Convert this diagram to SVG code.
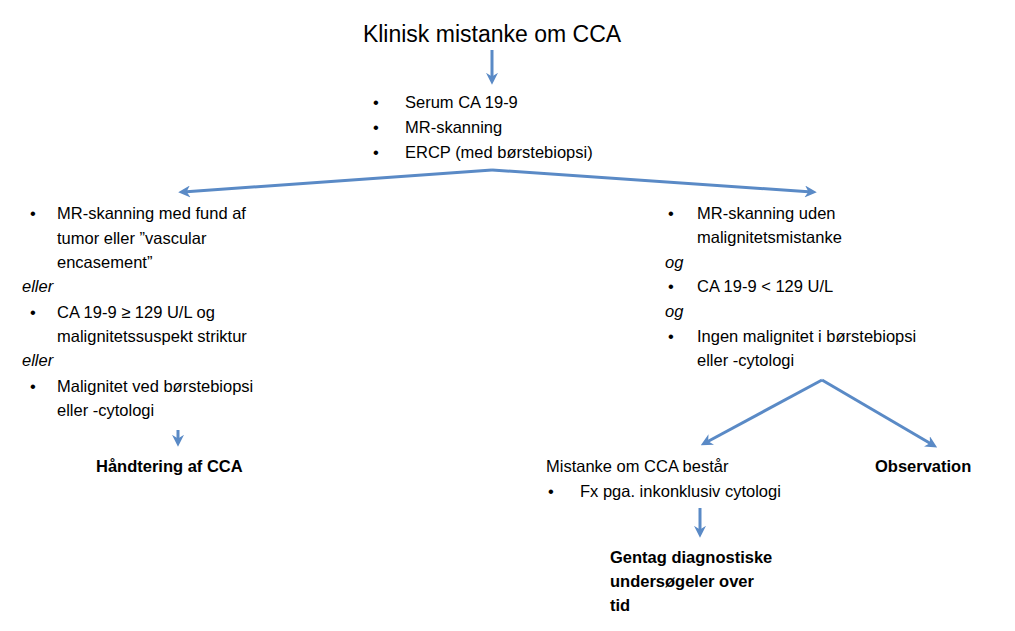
<svg xmlns="http://www.w3.org/2000/svg" width="1015" height="631" viewBox="0 0 1015 631">
<style>
text{font-family:"Liberation Sans",Arial,sans-serif;font-size:16.5px;fill:#000}
.b{font-weight:bold}
.i{font-style:italic}
.c{stroke:#5A8AC6;stroke-width:3;fill:none}
</style>
<defs>
<marker id="ah" viewBox="0 0 10 10" refX="6" refY="5" markerWidth="4" markerHeight="4" orient="auto" markerUnits="strokeWidth">
<path d="M0,0 L10,5 L0,10 L3,5 z" fill="#5A8AC6"/>
</marker>
</defs>
<rect width="1015" height="631" fill="#fff"/>
<g id="connectors">
<line class="c" x1="492" y1="50" x2="492" y2="80" marker-end="url(#ah)"/>
<line class="c" x1="492" y1="170" x2="183" y2="192" marker-end="url(#ah)"/>
<line class="c" x1="492" y1="170" x2="812" y2="192" marker-end="url(#ah)"/>
<line class="c" x1="178" y1="430" x2="178" y2="442" marker-end="url(#ah)"/>
<line class="c" x1="822" y1="380" x2="705" y2="443" marker-end="url(#ah)"/>
<line class="c" x1="822" y1="380" x2="933" y2="445" marker-end="url(#ah)"/>
<line class="c" x1="700" y1="508" x2="700" y2="533" marker-end="url(#ah)"/>
</g>
<g id="title"><text x="492" y="42" text-anchor="middle" style="font-size:23px">Klinisk mistanke om CCA</text></g>
<g id="tests">
<text x="373" y="108">•</text><text x="405" y="108">Serum CA 19-9</text>
<text x="373" y="133">•</text><text x="405" y="133">MR-skanning</text>
<text x="373" y="158">•</text><text x="405" y="158">ERCP (med børstebiopsi)</text>
</g>
<g id="left">
<text x="30" y="219">•</text><text x="57" y="219">MR-skanning med fund af</text>
<text x="57" y="244">tumor eller ”vascular</text>
<text x="57" y="268">encasement”</text>
<text x="22" y="292" class="i">eller</text>
<text x="30" y="318">•</text><text x="57" y="318">CA 19-9 ≥ 129 U/L og</text>
<text x="57" y="342">malignitetssuspekt striktur</text>
<text x="22" y="366" class="i">eller</text>
<text x="30" y="392">•</text><text x="57" y="392">Malignitet ved børstebiopsi</text>
<text x="57" y="416">eller -cytologi</text>
</g>
<g id="cca"><text x="96" y="472" class="b">Håndtering af CCA</text></g>
<g id="right">
<text x="668" y="219">•</text><text x="697" y="219">MR-skanning uden</text>
<text x="697" y="243">malignitetsmistanke</text>
<text x="665" y="268" class="i">og</text>
<text x="668" y="292">•</text><text x="697" y="292">CA 19-9 &lt; 129 U/L</text>
<text x="665" y="317" class="i">og</text>
<text x="668" y="342">•</text><text x="697" y="342">Ingen malignitet i børstebiopsi</text>
<text x="697" y="366">eller -cytologi</text>
</g>
<g id="suspicion">
<text x="546" y="472">Mistanke om CCA består</text>
<text x="548" y="497">•</text><text x="580" y="497">Fx pga. inkonklusiv cytologi</text>
</g>
<g id="observation"><text x="875" y="472" class="b">Observation</text></g>
<g id="repeat">
<text x="610" y="563" class="b">Gentag diagnostiske</text>
<text x="610" y="587" class="b">undersøgeler over</text>
<text x="610" y="611" class="b">tid</text>
</g>
</svg>
